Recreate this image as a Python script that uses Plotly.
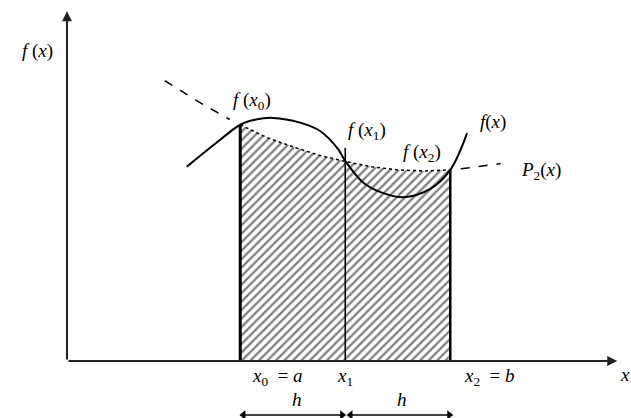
import plotly.graph_objects as go

# ---- data (math units: h = 1) ----
nodes_x = [1.65, 2.65, 3.65]          # x0 = a, x1, x2 = b
nodes_y = [2.25, 1.905, 1.82]         # f(x0), f(x1), f(x2)
x1_line_top = 2.03

fx_x = [1.14, 1.30, 1.45, 1.65, 1.80, 1.96, 2.22, 2.41, 2.58, 2.65, 2.82, 2.98, 3.20, 3.46, 3.65, 3.81]
fx_y = [1.85, 1.98, 2.10, 2.25, 2.30, 2.315, 2.27, 2.19, 2.02, 1.905, 1.70, 1.61, 1.56, 1.64, 1.82, 2.17]

p2_x = [0.93, 1.25, 1.55, 1.65, 1.90, 2.15, 2.40, 2.65, 2.90, 3.15, 3.40, 3.65, 3.75, 4.13]
p2_y = [2.67, 2.47, 2.30, 2.25, 2.13, 2.04, 1.96, 1.90, 1.85, 1.82, 1.81, 1.82, 1.83, 1.88]

x_axis_end = 5.24
y_axis_end = 3.33
h_arrow_y = -0.514

x_range = [-0.638, 5.371]
y_range = [-0.543, 3.438]

FONT = "Liberation Serif"

fig = go.Figure()

# hatched area under P2 between x0 and x2
fig.add_trace(go.Scatter(
    x=p2_x[3:12], y=p2_y[3:12], mode="lines", fill="tozeroy",
    line=dict(color="black", width=1.5, dash="dot"),
    fillcolor="white",
    fillpattern=dict(shape="/", fgcolor="black", bgcolor="white", size=6, solidity=0.38),
    hoverinfo="skip"))

# dashed extensions of P2
fig.add_trace(go.Scatter(x=p2_x[0:3], y=p2_y[0:3], mode="lines",
                         line=dict(color="black", width=1.5, dash="dash"), hoverinfo="skip"))
fig.add_trace(go.Scatter(x=p2_x[12:], y=p2_y[12:], mode="lines",
                         line=dict(color="black", width=1.5, dash="dash"), hoverinfo="skip"))

# vertical ordinates
tops = [nodes_y[0], x1_line_top, nodes_y[2]]
widths = [3, 1.6, 2.5]
for xv, top, w in zip(nodes_x, tops, widths):
    fig.add_trace(go.Scatter(x=[xv, xv], y=[0, top], mode="lines",
                             line=dict(color="black", width=w), hoverinfo="skip"))

# f(x) curve
fig.add_trace(go.Scatter(x=fx_x, y=fx_y, mode="lines", line_shape="spline",
                         line=dict(color="black", width=2), hoverinfo="skip"))

# h double arrows
for a, b in [(nodes_x[0] + 0.03, nodes_x[1] - 0.03), (nodes_x[1] + 0.05, nodes_x[2] - 0.01)]:
    fig.add_trace(go.Scatter(x=[a, b], y=[h_arrow_y, h_arrow_y], mode="lines+markers",
                             line=dict(color="black", width=1.6),
                             marker=dict(symbol=["triangle-left", "triangle-right"], size=8, color="black"),
                             hoverinfo="skip"))

ann = []
# axes
ann.append(dict(x=x_axis_end, y=0, ax=0, ay=0, xref="x", yref="y", axref="x", ayref="y",
                text="", showarrow=True, arrowhead=2, arrowsize=1, arrowwidth=2, arrowcolor="#222"))
ann.append(dict(x=0, y=y_axis_end, ax=0, ay=0, xref="x", yref="y", axref="x", ayref="y",
                text="", showarrow=True, arrowhead=2, arrowsize=1, arrowwidth=2, arrowcolor="#222"))

labels = [
    (-0.28, 2.95, "<i>f</i> (<i>x</i>)"),
    (1.76, 2.48, "<i>f</i> (<i>x</i><sub>0</sub>)"),
    (2.86, 2.19, "<i>f</i> (<i>x</i><sub>1</sub>)"),
    (3.38, 1.98, "<i>f</i> (<i>x</i><sub>2</sub>)"),
    (4.06, 2.28, "<i>f</i>(<i>x</i>)"),
    (4.51, 1.81, "<i>P</i><sub>2</sub>(<i>x</i>)"),
    (2.00, -0.15, "<i>x</i><sub>0</sub>  = <i>a</i>"),
    (2.65, -0.15, "<i>x</i><sub>1</sub>"),
    (4.02, -0.15, "<i>x</i><sub>2</sub>  = <i>b</i>"),
    (5.31, -0.13, "<i>x</i>"),
    (2.19, -0.37, "<i>h</i>"),
    (3.19, -0.37, "<i>h</i>"),
]
for lx, ly, t in labels:
    ann.append(dict(x=lx, y=ly, xref="x", yref="y", text=t, showarrow=False,
                    font=dict(family=FONT, size=19, color="black")))

fig.update_layout(
    width=631, height=418, margin=dict(l=0, r=0, t=0, b=0),
    paper_bgcolor="white", plot_bgcolor="white", showlegend=False,
    xaxis=dict(range=x_range, visible=False, fixedrange=True),
    yaxis=dict(range=y_range, visible=False, fixedrange=True),
    annotations=ann,
)

fig.write_html("out.html", config={"displayModeBar": False, "staticPlot": True},
               post_script="document.body.style.margin='0';")
